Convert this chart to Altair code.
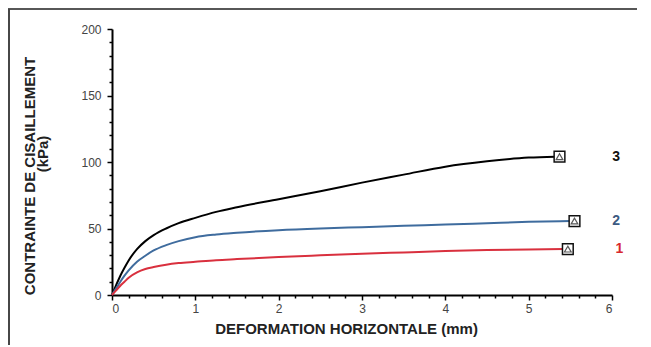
import altair as alt
import pandas as pd

# Curve data
x_pts = [0, 0.05, 0.1, 0.15, 0.2, 0.3, 0.4, 0.5, 0.65, 0.8, 1.0, 1.25, 1.5, 2.0, 2.5, 3.0, 3.5, 4.0, 4.5, 5.0]
s3 = [0, 7.5, 14.5, 20.5, 26, 34.5, 40.5, 45, 50, 54, 58, 62.5, 66, 72, 78, 84.5, 90.5, 96.5, 100.5, 103.3]
s2 = [0, 5, 10, 14.5, 18.5, 25, 29.5, 33.5, 37.5, 40.5, 43.5, 45.5, 46.8, 48.7, 50, 51, 52, 53, 54, 55]
s1 = [0, 3.5, 7, 10, 13, 17, 19.5, 21, 22.8, 24, 25, 26.2, 27, 28.5, 29.8, 31, 32, 33, 33.8, 34.3]
end_x = {"3": 5.32, "2": 5.5, "1": 5.42}
end_y = {"3": 104, "2": 55.6, "1": 34.5}

marker_names = ["3", "2", "1"]
marker_x = [5.37, 5.55, 5.47]
marker_y = [104, 55.6, 34.5]
label_x = [6.05, 6.05, 6.09]
label_colors = ["#111111", "#3c5a82", "#d8282e"]
line_colors = ["#000000", "#3f6c9e", "#d9303e"]

rows = []
for name, s in (("3", s3), ("2", s2), ("1", s1)):
    for xv, yv in zip(x_pts, s):
        rows.append({"serie": name, "x": xv, "y": yv})
    rows.append({"serie": name, "x": end_x[name], "y": end_y[name]})
curves = pd.DataFrame(rows)

markers = pd.DataFrame({"serie": marker_names, "x": marker_x, "y": marker_y, "lx": label_x})
titles = pd.DataFrame({"t": ["CONTRAINTE DE CISAILLEMENT", "(kPa)"]})

font = "Liberation Sans"

xscale = alt.Scale(domain=[0, 6], nice=False)
yscale = alt.Scale(domain=[0, 200], nice=False)
color_scale = alt.Scale(domain=marker_names, range=line_colors)
label_scale = alt.Scale(domain=marker_names, range=label_colors)

x_vals = [i / 5 for i in range(31)]
y_vals = list(range(0, 201, 10))

is_int = "abs(datum.value - round(datum.value)) < 1e-6"
xaxis = alt.Axis(
    title="DEFORMATION HORIZONTALE (mm)",
    values=x_vals,
    labelExpr=f"{is_int} ? format(datum.value, 'd') : ''",
    labelOverlap=False,
    tickSize={"condition": {"test": is_int, "value": 5}, "value": 3},
    grid=False, domainColor="#000", domainWidth=2, tickColor="#000", tickWidth=1.5,
    labelFont=font, labelFontSize=12, labelColor="#444", labelPadding=3,
    titleFont=font, titleFontSize=15, titleFontWeight="bold", titleColor="#222",
    titlePadding=7, titleX=234,
)
yaxis = alt.Axis(
    title=None,
    values=y_vals,
    labelExpr="datum.value % 50 === 0 ? format(datum.value, 'd') : ''",
    labelOverlap=False,
    tickSize={"condition": {"test": "datum.value % 50 === 0", "value": 5}, "value": 3},
    grid=False, domainColor="#000", domainWidth=2, tickColor="#000", tickWidth=1.5,
    labelFont=font, labelFontSize=12, labelColor="#444", labelPadding=6,
)


def X(field):
    return alt.X(f"{field}:Q", scale=xscale, axis=xaxis, title="DEFORMATION HORIZONTALE (mm)")


def Y(field):
    return alt.Y(f"{field}:Q", scale=yscale, axis=yaxis, title=None)


lines = alt.Chart(curves).mark_line(strokeWidth=2, interpolate="monotone", clip=False).encode(
    x=X("x"), y=Y("y"),
    color=alt.Color("serie:N", scale=color_scale, legend=None),
    detail="serie:N",
)

squares = alt.Chart(markers).mark_point(shape="square", size=115, filled=True, fill="white",
                                          stroke="#111", strokeWidth=1.5, opacity=1).encode(
    x=X("x"), y=Y("y"))
tris = alt.Chart(markers).mark_point(shape="triangle-up", size=45, filled=False,
                                       stroke="#111", strokeWidth=1.2).encode(
    x=X("x"), y=Y("y"))
labels = alt.Chart(markers).mark_text(font=font, fontSize=14, fontWeight="bold",
                                        align="center", baseline="middle").encode(
    x=X("lx"), y=Y("y"), text="serie:N",
    color=alt.Color("serie:N", scale=label_scale, legend=None),
)

# y-axis title, two lines
ytitle1 = alt.Chart(titles.iloc[[0]]).mark_text(font=font, fontSize=15, fontWeight="bold",
                                                 color="#222", angle=270, align="center",
                                                 baseline="middle").encode(
    text="t:N", x=alt.value(-82), y=alt.value(147))
ytitle2 = alt.Chart(titles.iloc[[1]]).mark_text(font=font, fontSize=15, fontWeight="bold",
                                                 color="#222", angle=270, align="center",
                                                 baseline="middle").encode(
    text="t:N", x=alt.value(-69), y=alt.value(125))

# page frame lines seen in the scan
frame_top = alt.Chart(markers).mark_rule(color="#555", strokeWidth=1.5, clip=False).encode(
    x=alt.value(-104), x2=alt.value(533), y=alt.value(-20))
frame_left = alt.Chart(markers).mark_rule(color="#444", strokeWidth=1.5, clip=False).encode(
    x=alt.value(-103), y=alt.value(-20), y2=alt.value(330))

chart = alt.layer(lines, squares, tris, labels, frame_top, frame_left, ytitle1, ytitle2).resolve_scale(
    color="independent"
).properties(
    width=500, height=266,
    autosize=alt.AutoSizeParams(type="none"),
    padding={"left": 104, "top": 21, "right": 25, "bottom": 50},
).configure_view(stroke=None)

chart.save("out.html", embed_options={"renderer": "svg", "actions": False})
